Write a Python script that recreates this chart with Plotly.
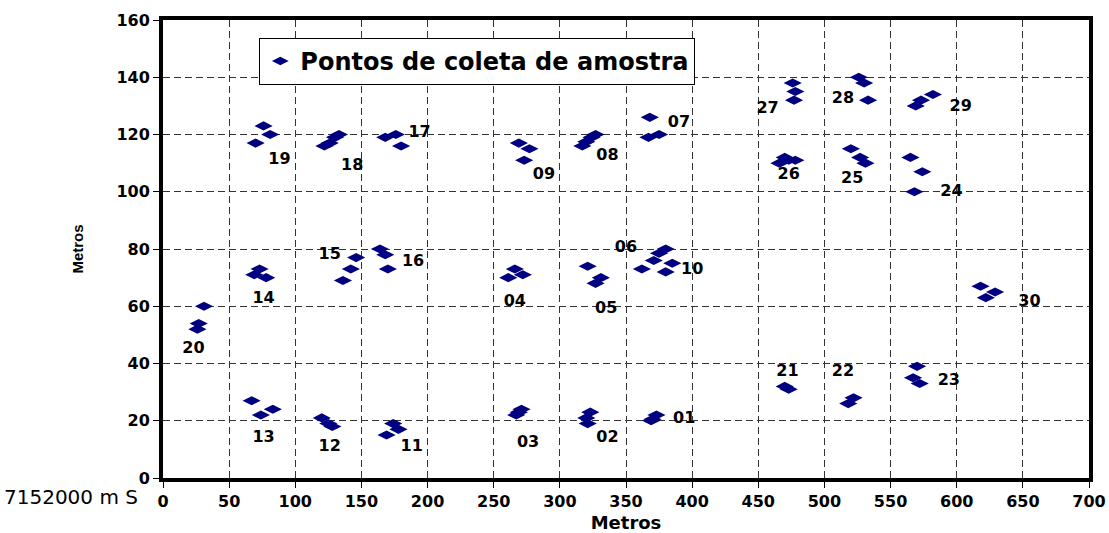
import plotly.graph_objects as go

# Sampling points (metres east, metres north of the local origin)
pontos_x = [
    31, 27, 26,            # 20
    69, 73, 78,            # 14
    146, 142, 136,         # 15
    164, 168, 170,         # 16
    261, 266, 272,         # 04
    321, 331, 327,         # 05
    362, 371, 375, 380, 385, 380,  # 06 / 10
    70, 76, 81,            # 19
    122, 126, 130, 133,    # 18
    168, 176, 180,         # 17
    269, 277, 273,         # 09
    317, 320, 324, 327,    # 08
    368, 367, 375,         # 07
    476, 478, 477,         # 27
    526, 530, 533,         # 28
    466, 470, 473, 478,    # 26
    520, 527, 531,         # 25
    582, 573, 569,         # 29
    565, 574, 568,         # 24
    67, 74, 83,            # 13
    120, 125, 128,         # 12
    174, 178, 169,         # 11
    267, 269, 271,         # 03
    323, 320, 321,         # 02
    373, 370, 369,         # 01
    470, 473,              # 21
    522, 518,              # 22
    570, 567, 572,         # 23
    618, 629, 622,         # 30
]
pontos_y = [
    60, 54, 52,
    71, 73, 70,
    77, 73, 69,
    80, 78, 73,
    70, 73, 71,
    74, 70, 68,
    73, 76, 78.5, 80, 75, 72,
    117, 123, 120,
    116, 117, 119, 120,
    119, 120, 116,
    117, 115, 111,
    116, 117.5, 119, 120,
    126, 119, 120,
    138, 135, 132,
    140, 138, 132,
    110, 112, 111, 111,
    115, 112, 110,
    134, 132, 130,
    112, 107, 100,
    27, 22, 24,
    21, 19, 18,
    19, 17, 15,
    22, 23, 24,
    23, 21, 19,
    22, 20.5, 20,
    32, 31,
    28, 26,
    39, 35, 33,
    67, 65, 63,
]

# Point-group labels and where they sit
rotulos = ["20", "14", "15", "16", "04", "05", "06", "10", "19", "18",
           "17", "09", "08", "07", "27", "28", "26", "25", "29", "24",
           "13", "12", "11", "03", "02", "01", "21", "22", "23", "30"]
rotulo_x = [23, 76, 126, 189, 266, 335, 350, 400, 88, 143,
            194, 288, 336, 390, 457, 514, 473, 521, 603, 596,
            76, 126, 188, 276, 336, 394, 472, 514, 594, 655]
rotulo_y = [45, 62.5, 78, 75.5, 61.5, 59, 80.5, 72.5, 111, 109,
            120.5, 106, 112.5, 124, 129, 132.5, 106, 104.5, 129.5, 100,
            14, 11, 11, 12.3, 14, 20.5, 37, 37, 34, 61.5]

x_ticks = list(range(0, 701, 50))
y_ticks = list(range(0, 161, 20))

WIDE = "DejaVu Sans, Verdana, sans-serif"
NARROW = "Liberation Sans, Arial, sans-serif"
NAVY = "#000080"

fig = go.Figure()

fig.add_trace(go.Scatter(
    x=pontos_x, y=pontos_y, mode="markers",
    name="Pontos de coleta de amostra",
    marker=dict(symbol="diamond-wide", size=13, color=NAVY,
                line=dict(width=0)),
))

fig.add_trace(go.Scatter(
    x=rotulo_x, y=rotulo_y, mode="text", text=rotulos,
    textfont=dict(family=WIDE, size=16, color="black", weight="bold"),
    showlegend=False, hoverinfo="skip",
))

axis_common = dict(
    showline=True, linecolor="black", linewidth=4, mirror=True,
    showgrid=True, gridcolor="#333333", gridwidth=1, griddash="7px,4px",
    ticks="outside", ticklen=6, tickcolor="black", tickwidth=1,
    zeroline=False, automargin=False,
    tickfont=dict(family=WIDE, size=16, color="black", weight="bold"),
)

fig.update_xaxes(
    range=[0, 700], tickvals=x_ticks,
    title=dict(text="Metros", standoff=8,
               font=dict(family=WIDE, size=18, color="black", weight="bold")),
    **axis_common,
)
fig.update_yaxes(
    range=[0, 160], tickvals=y_ticks,
    title=dict(text="Metros", standoff=30,
               font=dict(family=NARROW, size=15, color="black", weight="bold")),
    **axis_common,
)

fig.add_annotation(
    text="7152000 m S", xref="paper", yref="paper",
    x=-0.025, y=-0.041, xanchor="right", yanchor="middle",
    showarrow=False,
    font=dict(family=WIDE, size=20, color="black"),
)

fig.update_layout(
    width=1109, height=533,
    margin=dict(l=163, r=20, t=20, b=55),
    paper_bgcolor="white", plot_bgcolor="white",
    showlegend=True,
    legend=dict(
        x=0.104, y=0.961, xanchor="left", yanchor="top",
        bgcolor="white", bordercolor="black", borderwidth=1,
        font=dict(family=WIDE, size=24, color="black", weight="bold"),
        itemsizing="constant",
    ),
)

fig.write_html("out.html")
